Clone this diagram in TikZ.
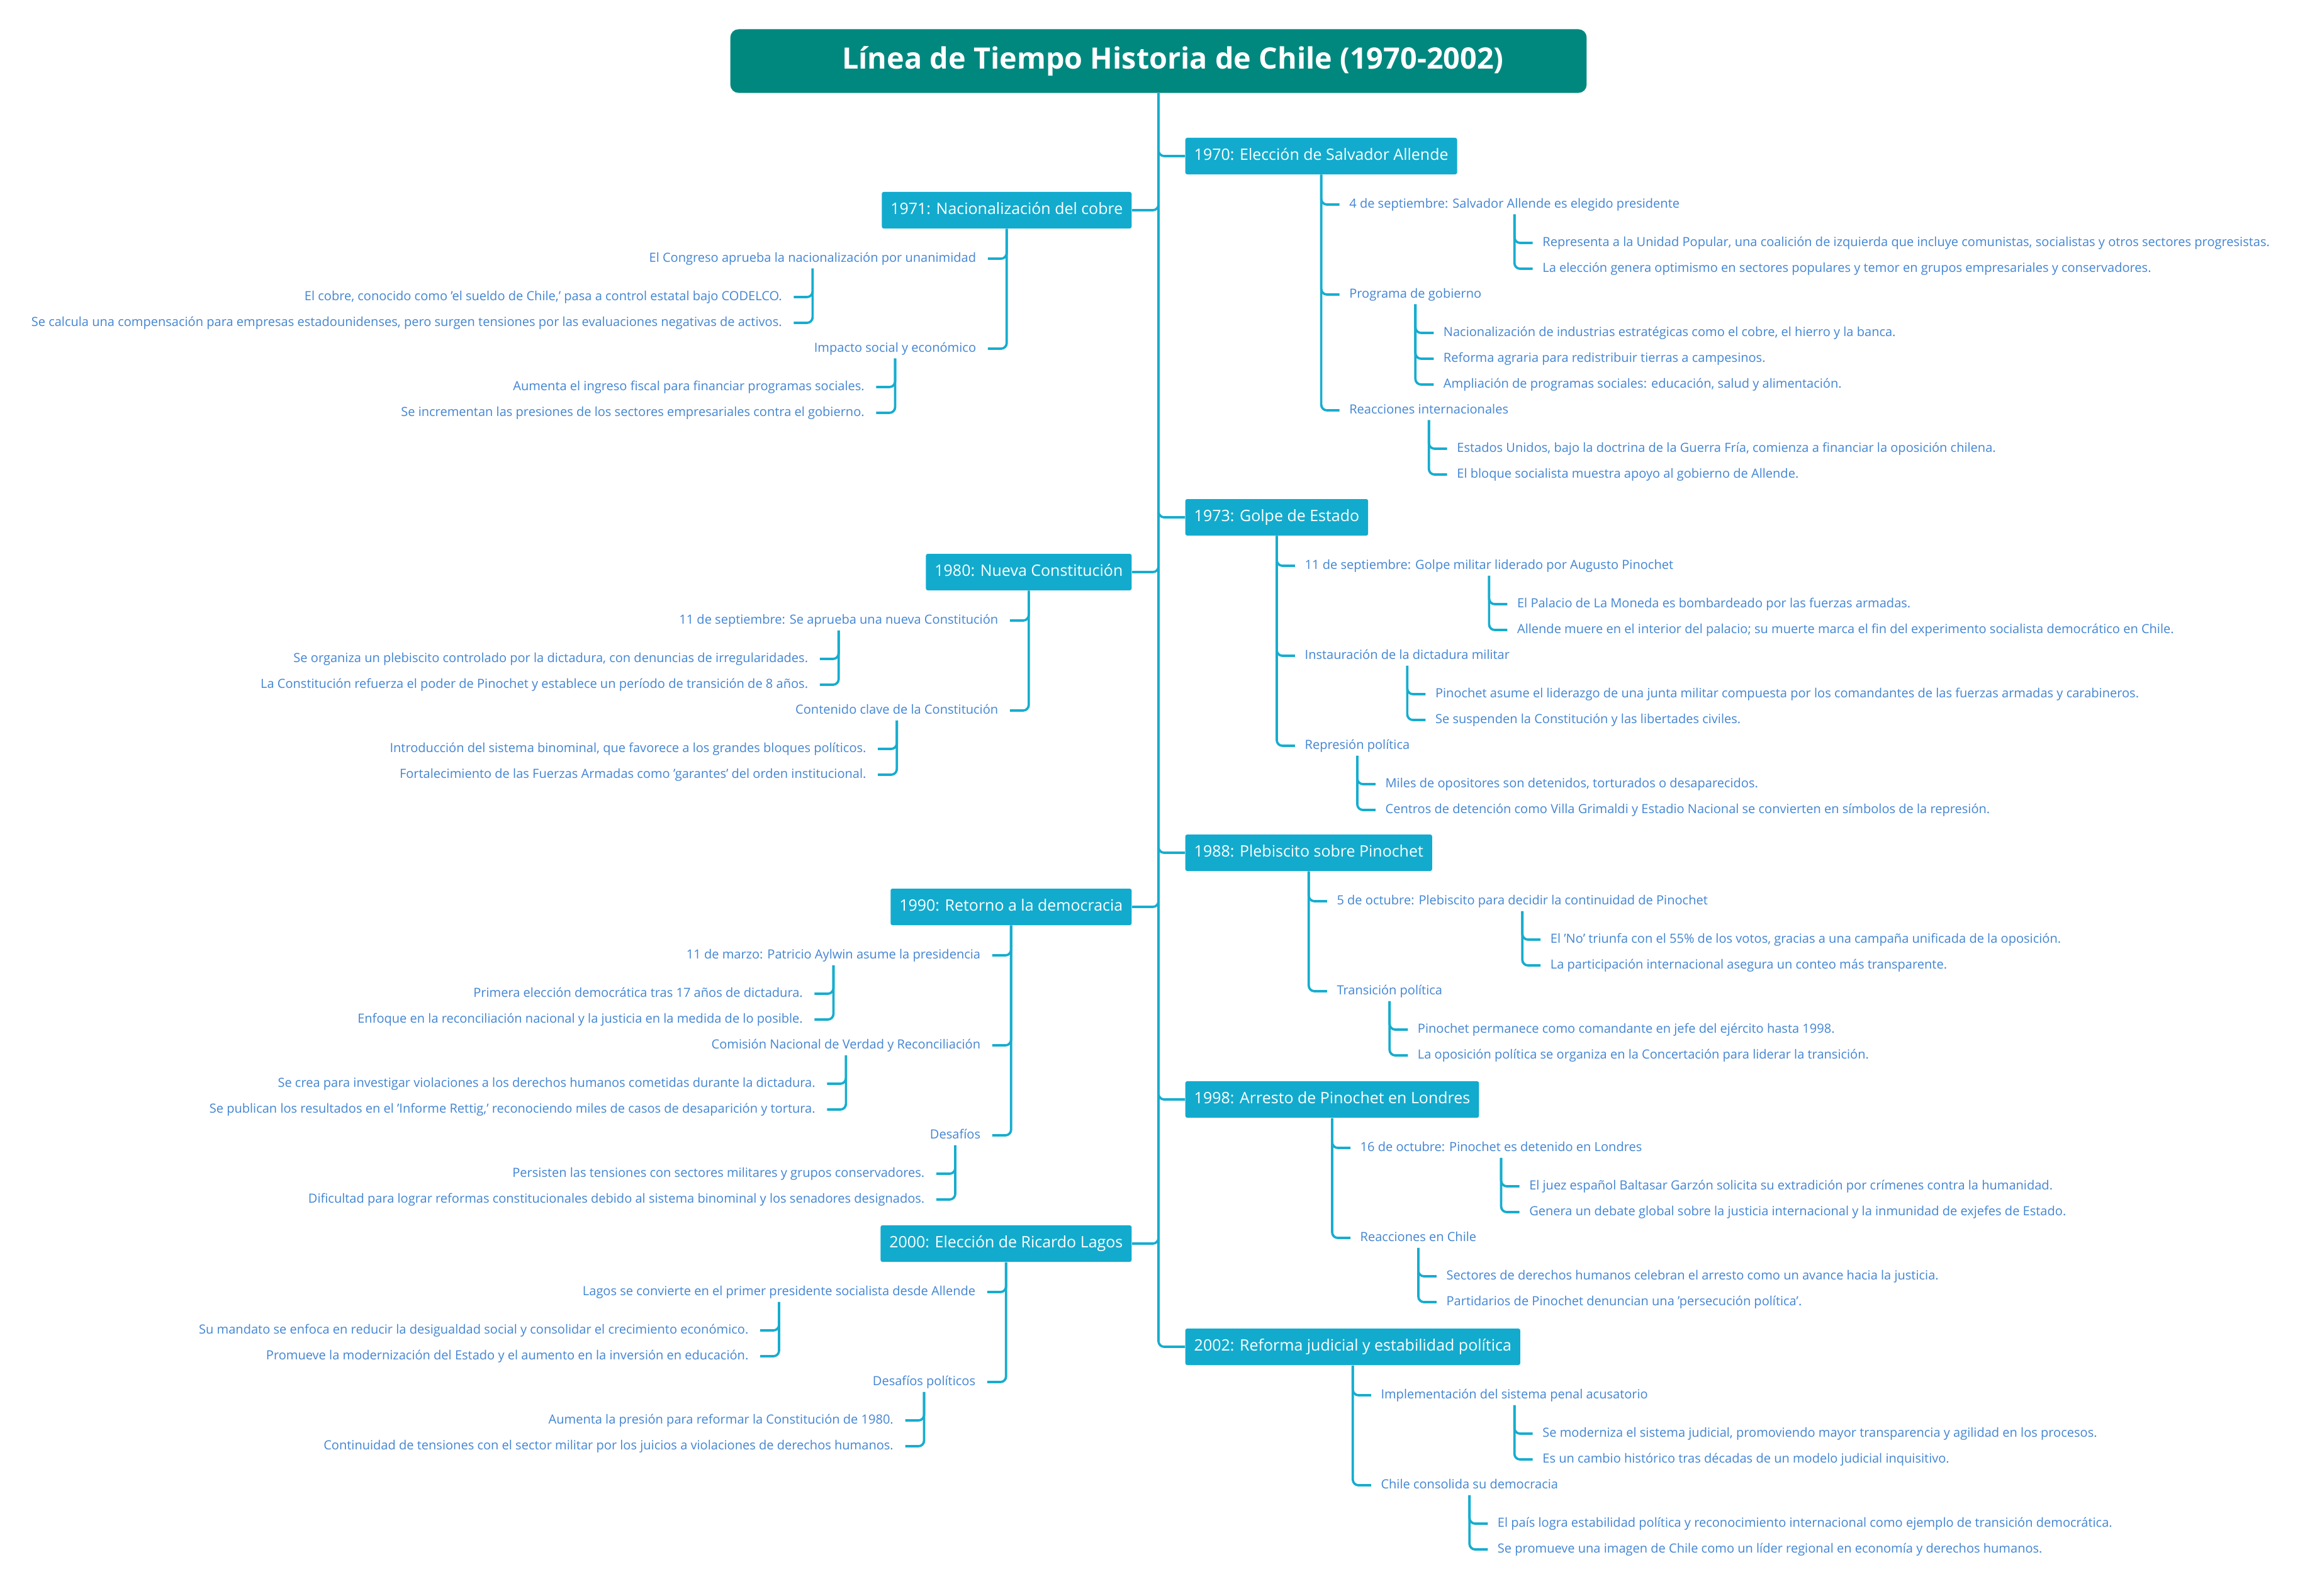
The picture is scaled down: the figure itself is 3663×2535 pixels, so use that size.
\documentclass[tikz,border=0pt]{standalone}
\usepackage{fontspec}
\setmainfont{Open Sans}
\usetikzlibrary{calc}
\definecolor{headteal}{HTML}{00887F}
\definecolor{yearcyan}{HTML}{12ABCE}
\definecolor{wire}{HTML}{16ADCF}
\definecolor{itemblue}{HTML}{4285D3}
\tikzset{conn/.style={draw=wire,line width=1.05pt,rounded corners=0.09cm},
headbox/.style={fill=headteal,rounded corners=0.13cm,text=white,font=\fontsize{13.3}{16}\selectfont\bfseries,minimum width=13.6cm,minimum height=1.01cm},
yearbox/.style={fill=yearcyan,rounded corners=0.03cm,text=white,font=\fontsize{7.1}{8.5}\selectfont,minimum height=0.58cm,inner xsep=0.14cm,inner ysep=0pt,text height=5.3pt,text depth=1.7pt},
itemR/.style={anchor=west,text=itemblue,font=\fontsize{5.7}{7}\selectfont,inner xsep=0pt,inner ysep=0.05cm,text height=4.3pt,text depth=1.4pt},
itemL/.style={itemR,anchor=east}}

\begin{document}
\begin{tikzpicture}[x=0.01cm,y=-0.01cm]
\fill[white] (0,0) rectangle (3663,2535);
\useasboundingbox (0,0) rectangle (3663,2535);
\node[headbox] (head) at (1841,97) {\hspace*{0.46cm}\raisebox{-0.05cm}{Línea de Tiempo Historia de Chile (1970-2002)}};
% right side
\node[yearbox,anchor=west] (y70) at (1883,248) {1970: Elección de Salvador Allende};
\node[itemR] (y70a) at ($(y70.center)+(44,77)$) {4 de septiembre: Salvador Allende es elegido presidente};
\node[itemR] (y70a1) at ($(y70a.center)+(44,61)$) {Representa a la Unidad Popular, una coalición de izquierda que incluye comunistas, socialistas y otros sectores progresistas.};
\node[itemR] (y70a2) at ($(y70a1.west)+(0,41)$) {La elección genera optimismo en sectores populares y temor en grupos empresariales y conservadores.};
\node[itemR] (y70b) at ($(y70a.west |- y70a2.west)+(0,41)$) {Programa de gobierno};
\node[itemR] (y70b1) at ($(y70b.center)+(44,61)$) {Nacionalización de industrias estratégicas como el cobre, el hierro y la banca.};
\node[itemR] (y70b2) at ($(y70b1.west)+(0,41)$) {Reforma agraria para redistribuir tierras a campesinos.};
\node[itemR] (y70b3) at ($(y70b2.west)+(0,41)$) {Ampliación de programas sociales: educación, salud y alimentación.};
\node[itemR] (y70c) at ($(y70a.west |- y70b3.west)+(0,41)$) {Reacciones internacionales};
\node[itemR] (y70c1) at ($(y70c.center)+(44,61)$) {Estados Unidos, bajo la doctrina de la Guerra Fría, comienza a financiar la oposición chilena.};
\node[itemR] (y70c2) at ($(y70c1.west)+(0,41)$) {El bloque socialista muestra apoyo al gobierno de Allende.};

\node[yearbox,anchor=west] (y73) at (1883,822) {1973: Golpe de Estado};
\node[itemR] (y73a) at ($(y73.center)+(44,77)$) {11 de septiembre: Golpe militar liderado por Augusto Pinochet};
\node[itemR] (y73a1) at ($(y73a.center)+(44,61)$) {El Palacio de La Moneda es bombardeado por las fuerzas armadas.};
\node[itemR] (y73a2) at ($(y73a1.west)+(0,41)$) {Allende muere en el interior del palacio; su muerte marca el fin del experimento socialista democrático en Chile.};
\node[itemR] (y73b) at ($(y73a.west |- y73a2.west)+(0,41)$) {Instauración de la dictadura militar};
\node[itemR] (y73b1) at ($(y73b.center)+(44,61)$) {Pinochet asume el liderazgo de una junta militar compuesta por los comandantes de las fuerzas armadas y carabineros.};
\node[itemR] (y73b2) at ($(y73b1.west)+(0,41)$) {Se suspenden la Constitución y las libertades civiles.};
\node[itemR] (y73c) at ($(y73a.west |- y73b2.west)+(0,41)$) {Represión política};
\node[itemR] (y73c1) at ($(y73c.center)+(44,61)$) {Miles de opositores son detenidos, torturados o desaparecidos.};
\node[itemR] (y73c2) at ($(y73c1.west)+(0,41)$) {Centros de detención como Villa Grimaldi y Estadio Nacional se convierten en símbolos de la represión.};

\node[yearbox,anchor=west] (y88) at (1883,1355) {1988: Plebiscito sobre Pinochet};
\node[itemR] (y88a) at ($(y88.center)+(44,77)$) {5 de octubre: Plebiscito para decidir la continuidad de Pinochet};
\node[itemR] (y88a1) at ($(y88a.center)+(44,61)$) {El 'No' triunfa con el 55\% de los votos, gracias a una campaña unificada de la oposición.};
\node[itemR] (y88a2) at ($(y88a1.west)+(0,41)$) {La participación internacional asegura un conteo más transparente.};
\node[itemR] (y88b) at ($(y88a.west |- y88a2.west)+(0,41)$) {Transición política};
\node[itemR] (y88b1) at ($(y88b.center)+(44,61)$) {Pinochet permanece como comandante en jefe del ejército hasta 1998.};
\node[itemR] (y88b2) at ($(y88b1.west)+(0,41)$) {La oposición política se organiza en la Concertación para liderar la transición.};

\node[yearbox,anchor=west] (y98) at (1883,1747) {1998: Arresto de Pinochet en Londres};
\node[itemR] (y98a) at ($(y98.center)+(44,77)$) {16 de octubre: Pinochet es detenido en Londres};
\node[itemR] (y98a1) at ($(y98a.center)+(44,61)$) {El juez español Baltasar Garzón solicita su extradición por crímenes contra la humanidad.};
\node[itemR] (y98a2) at ($(y98a1.west)+(0,41)$) {Genera un debate global sobre la justicia internacional y la inmunidad de exjefes de Estado.};
\node[itemR] (y98b) at ($(y98a.west |- y98a2.west)+(0,41)$) {Reacciones en Chile};
\node[itemR] (y98b1) at ($(y98b.center)+(44,61)$) {Sectores de derechos humanos celebran el arresto como un avance hacia la justicia.};
\node[itemR] (y98b2) at ($(y98b1.west)+(0,41)$) {Partidarios de Pinochet denuncian una 'persecución política'.};

\node[yearbox,anchor=west] (y02) at (1883,2140) {2002: Reforma judicial y estabilidad política};
\node[itemR] (y02a) at ($(y02.center)+(44,77)$) {Implementación del sistema penal acusatorio};
\node[itemR] (y02a1) at ($(y02a.center)+(44,61)$) {Se moderniza el sistema judicial, promoviendo mayor transparencia y agilidad en los procesos.};
\node[itemR] (y02a2) at ($(y02a1.west)+(0,41)$) {Es un cambio histórico tras décadas de un modelo judicial inquisitivo.};
\node[itemR] (y02b) at ($(y02a.west |- y02a2.west)+(0,41)$) {Chile consolida su democracia};
\node[itemR] (y02b1) at ($(y02b.center)+(44,61)$) {El país logra estabilidad política y reconocimiento internacional como ejemplo de transición democrática.};
\node[itemR] (y02b2) at ($(y02b1.west)+(0,41)$) {Se promueve una imagen de Chile como un líder regional en economía y derechos humanos.};

% left side
\node[yearbox,anchor=east] (y71) at (1799,334) {1971: Nacionalización del cobre};
\node[itemL] (y71a) at ($(y71.center)+(-48,77)$) {El Congreso aprueba la nacionalización por unanimidad};
\node[itemL] (y71a1) at ($(y71a.center)+(-48,61)$) {El cobre, conocido como 'el sueldo de Chile,' pasa a control estatal bajo CODELCO.};
\node[itemL] (y71a2) at ($(y71a1.east)+(0,41)$) {Se calcula una compensación para empresas estadounidenses, pero surgen tensiones por las evaluaciones negativas de activos.};
\node[itemL] (y71b) at ($(y71a.east |- y71a2.east)+(0,41)$) {Impacto social y económico};
\node[itemL] (y71b1) at ($(y71b.center)+(-48,61)$) {Aumenta el ingreso fiscal para financiar programas sociales.};
\node[itemL] (y71b2) at ($(y71b1.east)+(0,41)$) {Se incrementan las presiones de los sectores empresariales contra el gobierno.};

\node[yearbox,anchor=east] (y80) at (1799,909) {1980: Nueva Constitución};
\node[itemL] (y80a) at ($(y80.center)+(-48,77)$) {11 de septiembre: Se aprueba una nueva Constitución};
\node[itemL] (y80a1) at ($(y80a.center)+(-48,61)$) {Se organiza un plebiscito controlado por la dictadura, con denuncias de irregularidades.};
\node[itemL] (y80a2) at ($(y80a1.east)+(0,41)$) {La Constitución refuerza el poder de Pinochet y establece un período de transición de 8 años.};
\node[itemL] (y80b) at ($(y80a.east |- y80a2.east)+(0,41)$) {Contenido clave de la Constitución};
\node[itemL] (y80b1) at ($(y80b.center)+(-48,61)$) {Introducción del sistema binominal, que favorece a los grandes bloques políticos.};
\node[itemL] (y80b2) at ($(y80b1.east)+(0,41)$) {Fortalecimiento de las Fuerzas Armadas como 'garantes' del orden institucional.};

\node[yearbox,anchor=east] (y90) at (1799,1441) {1990: Retorno a la democracia};
\node[itemL] (y90a) at ($(y90.center)+(-48,77)$) {11 de marzo: Patricio Aylwin asume la presidencia};
\node[itemL] (y90a1) at ($(y90a.center)+(-48,61)$) {Primera elección democrática tras 17 años de dictadura.};
\node[itemL] (y90a2) at ($(y90a1.east)+(0,41)$) {Enfoque en la reconciliación nacional y la justicia en la medida de lo posible.};
\node[itemL] (y90b) at ($(y90a.east |- y90a2.east)+(0,41)$) {Comisión Nacional de Verdad y Reconciliación};
\node[itemL] (y90b1) at ($(y90b.center)+(-48,61)$) {Se crea para investigar violaciones a los derechos humanos cometidas durante la dictadura.};
\node[itemL] (y90b2) at ($(y90b1.east)+(0,41)$) {Se publican los resultados en el 'Informe Rettig,' reconociendo miles de casos de desaparición y tortura.};
\node[itemL] (y90c) at ($(y90a.east |- y90b2.east)+(0,41)$) {Desafíos};
\node[itemL] (y90c1) at ($(y90c.center)+(-48,61)$) {Persisten las tensiones con sectores militares y grupos conservadores.};
\node[itemL] (y90c2) at ($(y90c1.east)+(0,41)$) {Dificultad para lograr reformas constitucionales debido al sistema binominal y los senadores designados.};

\node[yearbox,anchor=east] (y00) at (1799,1976) {2000: Elección de Ricardo Lagos};
\node[itemL] (y00a) at ($(y00.center)+(-48,77)$) {Lagos se convierte en el primer presidente socialista desde Allende};
\node[itemL] (y00a1) at ($(y00a.center)+(-48,61)$) {Su mandato se enfoca en reducir la desigualdad social y consolidar el crecimiento económico.};
\node[itemL] (y00a2) at ($(y00a1.east)+(0,41)$) {Promueve la modernización del Estado y el aumento en la inversión en educación.};
\node[itemL] (y00b) at ($(y00a.east |- y00a2.east)+(0,41)$) {Desafíos políticos};
\node[itemL] (y00b1) at ($(y00b.center)+(-48,61)$) {Aumenta la presión para reformar la Constitución de 1980.};
\node[itemL] (y00b2) at ($(y00b1.east)+(0,41)$) {Continuidad de tensiones con el sector militar por los juicios a violaciones de derechos humanos.};

% connectors
\foreach \b in {y70,y73,y88,y98,y02}{\draw[conn] (head.south) |- (\b.west);}
\foreach \b in {y71,y80,y90,y00}{\draw[conn] (head.south) |- (\b.east);}
\foreach \p/\c in {y70/y70a,y70/y70b,y70/y70c,y70a/y70a1,y70a/y70a2,y70b/y70b1,y70b/y70b2,y70b/y70b3,y70c/y70c1,y70c/y70c2,
  y73/y73a,y73/y73b,y73/y73c,y73a/y73a1,y73a/y73a2,y73b/y73b1,y73b/y73b2,y73c/y73c1,y73c/y73c2,
  y88/y88a,y88/y88b,y88a/y88a1,y88a/y88a2,y88b/y88b1,y88b/y88b2,
  y98/y98a,y98/y98b,y98a/y98a1,y98a/y98a2,y98b/y98b1,y98b/y98b2,
  y02/y02a,y02/y02b,y02a/y02a1,y02a/y02a2,y02b/y02b1,y02b/y02b2}{\draw[conn] (\p.south) |- ($(\c.west)+(-15,0)$);}
\foreach \p/\c in {y71/y71a,y71/y71b,y71a/y71a1,y71a/y71a2,y71b/y71b1,y71b/y71b2,
  y80/y80a,y80/y80b,y80a/y80a1,y80a/y80a2,y80b/y80b1,y80b/y80b2,
  y90/y90a,y90/y90b,y90/y90c,y90a/y90a1,y90a/y90a2,y90b/y90b1,y90b/y90b2,y90c/y90c1,y90c/y90c2,
  y00/y00a,y00/y00b,y00a/y00a1,y00a/y00a2,y00b/y00b1,y00b/y00b2}{\draw[conn] (\p.south) |- ($(\c.east)+(18,0)$);}
\end{tikzpicture}
\end{document}
